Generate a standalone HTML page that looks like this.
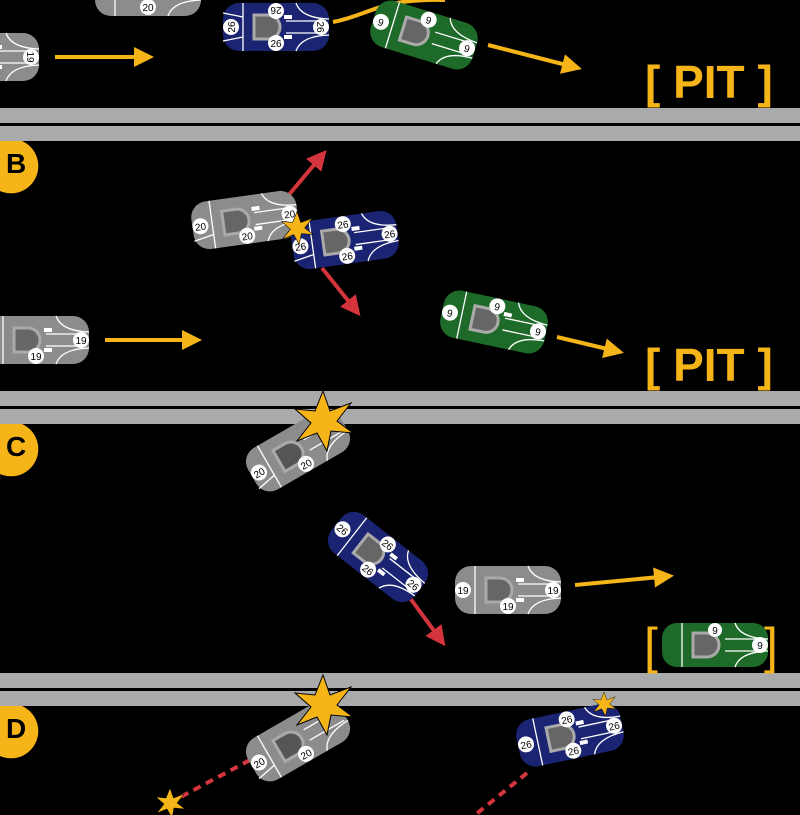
<!DOCTYPE html>
<html><head><meta charset="utf-8"><style>
html,body{margin:0;padding:0;background:#000;}
svg{display:block}
text{font-family:"Liberation Sans",sans-serif}
</style></head><body>
<svg width="800" height="815" viewBox="0 0 800 815" xmlns="http://www.w3.org/2000/svg">
<defs>
<marker id="ay" viewBox="0 0 10 10" refX="8" refY="5" markerWidth="5.5" markerHeight="5" orient="auto"><path d="M0,0 L10,5 L0,10 z" fill="#f5b417"/></marker>
<marker id="ar" viewBox="0 0 10 10" refX="8" refY="5" markerWidth="5.5" markerHeight="5" orient="auto"><path d="M0,0 L10,5 L0,10 z" fill="#d4343b"/></marker>
</defs>
<rect width="800" height="815" fill="#000"/>
<g fill="#a8aaac"><rect x="0" y="108" width="800" height="33"/><rect x="0" y="391" width="800" height="33"/><rect x="0" y="673" width="800" height="33"/></g>
<g fill="#000"><rect x="0" y="123" width="800" height="3"/><rect x="0" y="406" width="800" height="3"/><rect x="0" y="688" width="800" height="3"/></g>
<g fill="#f5b417"><path d="M0,141 h22 a27,27 0 0 1 -22,50 z"/>
<path d="M0,424 h22 a27,27 0 0 1 -22,50 z"/><path d="M0,706 h22 a27,27 0 0 1 -22,50 z"/></g>
<g font-size="28" font-weight="bold" fill="#000"><text x="6" y="173">B</text><text x="6" y="456">C</text><text x="6" y="738">D</text></g>

<g fill="#f5b417" font-weight="bold" font-size="46"><text x="645" y="98">[ PIT ]</text><text x="645" y="381">[ PIT ]</text>
<text x="644" y="663" font-weight="normal" font-size="50">[</text><text x="764" y="663" font-weight="normal" font-size="50">]</text></g>

<g stroke="#f5b417" stroke-width="4" fill="none">
<line x1="55" y1="57" x2="150" y2="57" marker-end="url(#ay)"/>
<line x1="488" y1="45" x2="578" y2="68" marker-end="url(#ay)"/>
<path d="M333,22 C370,15 380,-2 445,0"/>
<line x1="105" y1="340" x2="198" y2="340" marker-end="url(#ay)"/>
<line x1="557" y1="337" x2="620" y2="352" marker-end="url(#ay)"/>
<line x1="575" y1="585" x2="670" y2="576" marker-end="url(#ay)"/>
</g>
<g stroke="#d4343b" stroke-width="4" fill="none">
<line x1="287" y1="197" x2="324" y2="153" marker-end="url(#ar)"/>
<line x1="322" y1="268" x2="358" y2="313" marker-end="url(#ar)"/>
<line x1="410" y1="598" x2="443" y2="643" marker-end="url(#ar)"/>
<line x1="250" y1="760" x2="175" y2="800" stroke-dasharray="8,6"/>
<line x1="527" y1="773" x2="475" y2="815" stroke-dasharray="8,6"/>
</g>

<g font-size="10" text-anchor="middle">
<g transform="translate(148,-8)"><rect x="-53" y="-24" width="106" height="48" rx="16" fill="#8c8c8c"/><path d="M-33,-24V24M10,-6h40M10,6h40M20,24q5,-15 33,-16" stroke="#fff" stroke-width="1.3" fill="none"/><circle cx="0" cy="15" r="8" fill="#fff"/><text x="0" y="19" fill="#000">20</text></g>
<g transform="translate(-14,57)"><rect x="-53" y="-24" width="106" height="48" rx="16" fill="#8c8c8c"/><path d="M-33,-24V24M10,-6h40M10,6h40M20,-24q5,15 33,16M20,24q5,-15 33,-16" stroke="#fff" stroke-width="1.3" fill="none"/><rect x="8" y="-12" width="8" height="4" fill="#fff"/><rect x="8" y="8" width="8" height="4" fill="#fff"/><circle cx="45" cy="0" r="8" fill="#fff"/><text x="45" y="4" fill="#000" transform="rotate(90 45 0)">19</text></g>
<g transform="translate(276,27)"><rect x="-53" y="-24" width="106" height="48" rx="16" fill="#1b2472"/><path d="M-33,-24V24M10,-6h40M10,6h40M20,-24q5,15 33,16M20,24q5,-15 33,-16M-53,14L-33,10M-53,-14L-33,-10" stroke="#fff" stroke-width="1.3" fill="none"/><path d="M-22,-12h14a12,12 0 0 1 0,24h-14z" fill="#666" stroke="#aaa" stroke-width="3"/><rect x="8" y="-12" width="8" height="4" fill="#fff"/><rect x="8" y="8" width="8" height="4" fill="#fff"/><circle cx="-45" cy="0" r="8" fill="#fff"/><circle cx="0" cy="-16" r="8" fill="#fff"/><circle cx="0" cy="16" r="8" fill="#fff"/><circle cx="45" cy="0" r="8" fill="#fff"/><text x="0" y="20" fill="#000">26</text><text x="0" y="-12" fill="#000" transform="rotate(180 0 -16)">26</text><text x="-45" y="4" fill="#000" transform="rotate(-90 -45 0)">26</text><text x="45" y="4" fill="#000" transform="rotate(90 45 0)">26</text></g>
<g transform="translate(424,35) rotate(17)"><rect x="-53" y="-24" width="106" height="48" rx="16" fill="#1e6b29"/><path d="M-33,-24V24M10,-6h40M10,6h40M20,-24q5,15 33,16M20,24q5,-15 33,-16" stroke="#fff" stroke-width="1.3" fill="none"/><path d="M-22,-12h14a12,12 0 0 1 0,24h-14z" fill="#666" stroke="#aaa" stroke-width="3"/><circle cx="-45" cy="0" r="8" fill="#fff"/><circle cx="0" cy="-16" r="8" fill="#fff"/><circle cx="45" cy="0" r="8" fill="#fff"/><text x="0" y="-12" fill="#000">9</text><text x="-45" y="4" fill="#000">9</text><text x="45" y="4" fill="#000">9</text></g>

<g transform="translate(245,220) rotate(-8)"><rect x="-53" y="-24" width="106" height="48" rx="16" fill="#8c8c8c"/><path d="M-33,-24V24M10,-6h40M10,6h40M20,-24q5,15 33,16M20,24q5,-15 33,-16M-53,14L-33,10" stroke="#fff" stroke-width="1.3" fill="none"/><path d="M-22,-12h14a12,12 0 0 1 0,24h-14z" fill="#666" stroke="#aaa" stroke-width="3"/><rect x="8" y="-12" width="8" height="4" fill="#fff"/><rect x="8" y="8" width="8" height="4" fill="#fff"/><circle cx="-45" cy="0" r="8" fill="#fff"/><circle cx="0" cy="16" r="8" fill="#fff"/><circle cx="45" cy="0" r="8" fill="#fff"/><text x="0" y="20" fill="#000">20</text><text x="-45" y="4" fill="#000">20</text><text x="45" y="4" fill="#000">20</text></g>
<g transform="translate(345,240) rotate(-8)"><rect x="-53" y="-24" width="106" height="48" rx="16" fill="#1b2472"/><path d="M-33,-24V24M10,-6h40M10,6h40M20,-24q5,15 33,16M20,24q5,-15 33,-16M-53,14L-33,10" stroke="#fff" stroke-width="1.3" fill="none"/><path d="M-22,-12h14a12,12 0 0 1 0,24h-14z" fill="#666" stroke="#aaa" stroke-width="3"/><rect x="8" y="-12" width="8" height="4" fill="#fff"/><rect x="8" y="8" width="8" height="4" fill="#fff"/><circle cx="-45" cy="0" r="8" fill="#fff"/><circle cx="0" cy="-16" r="8" fill="#fff"/><circle cx="0" cy="16" r="8" fill="#fff"/><circle cx="45" cy="0" r="8" fill="#fff"/><text x="0" y="20" fill="#000">26</text><text x="0" y="-12" fill="#000">26</text><text x="-45" y="4" fill="#000">26</text><text x="45" y="4" fill="#000">26</text></g>
<g transform="translate(36,340)"><rect x="-53" y="-24" width="106" height="48" rx="16" fill="#8c8c8c"/><path d="M-33,-24V24M10,-6h40M10,6h40M20,-24q5,15 33,16M20,24q5,-15 33,-16" stroke="#fff" stroke-width="1.3" fill="none"/><path d="M-22,-12h14a12,12 0 0 1 0,24h-14z" fill="#666" stroke="#aaa" stroke-width="3"/><rect x="8" y="-12" width="8" height="4" fill="#fff"/><rect x="8" y="8" width="8" height="4" fill="#fff"/><circle cx="0" cy="16" r="8" fill="#fff"/><circle cx="45" cy="0" r="8" fill="#fff"/><text x="0" y="20" fill="#000">19</text><text x="45" y="4" fill="#000">19</text></g>
<g transform="translate(494,322) rotate(12)"><rect x="-53" y="-24" width="106" height="48" rx="16" fill="#1e6b29"/><path d="M-33,-24V24M10,-6h40M10,6h40M20,-24q5,15 33,16M20,24q5,-15 33,-16" stroke="#fff" stroke-width="1.3" fill="none"/><path d="M-22,-12h14a12,12 0 0 1 0,24h-14z" fill="#666" stroke="#aaa" stroke-width="3"/><rect x="8" y="-12" width="8" height="4" fill="#fff"/><circle cx="-45" cy="0" r="8" fill="#fff"/><circle cx="0" cy="-16" r="8" fill="#fff"/><circle cx="45" cy="0" r="8" fill="#fff"/><text x="0" y="-12" fill="#000">9</text><text x="-45" y="4" fill="#000">9</text><text x="45" y="4" fill="#000">9</text></g>

<g transform="translate(298,450) rotate(-30)"><rect x="-53" y="-24" width="106" height="48" rx="16" fill="#8c8c8c"/><path d="M-33,-24V24M10,-6h40M10,6h40M20,24q5,-15 33,-16M-53,14L-33,10" stroke="#fff" stroke-width="1.3" fill="none"/><path d="M-22,-12h14a12,12 0 0 1 0,24h-14z" fill="#555" stroke="#aaa" stroke-width="3"/><circle cx="-45" cy="0" r="8" fill="#fff"/><circle cx="0" cy="16" r="8" fill="#fff"/><text x="0" y="20" fill="#000">20</text><text x="-45" y="4" fill="#000">20</text></g>
<g transform="translate(378,557) rotate(38)"><rect x="-53" y="-24" width="106" height="48" rx="16" fill="#1b2472"/><path d="M-33,-24V24M10,-6h40M10,6h40M20,-24q5,15 33,16M20,24q5,-15 33,-16" stroke="#fff" stroke-width="1.3" fill="none"/><path d="M-22,-12h14a12,12 0 0 1 0,24h-14z" fill="#666" stroke="#aaa" stroke-width="3"/><rect x="8" y="-12" width="8" height="4" fill="#fff"/><rect x="8" y="8" width="8" height="4" fill="#fff"/><circle cx="-45" cy="0" r="8" fill="#fff"/><circle cx="0" cy="-16" r="8" fill="#fff"/><circle cx="0" cy="16" r="8" fill="#fff"/><circle cx="45" cy="0" r="8" fill="#fff"/><text x="0" y="20" fill="#000">26</text><text x="0" y="-12" fill="#000">26</text><text x="-45" y="4" fill="#000">26</text><text x="45" y="4" fill="#000">26</text></g>
<g transform="translate(508,590)"><rect x="-53" y="-24" width="106" height="48" rx="16" fill="#8c8c8c"/><path d="M-33,-24V24M10,-6h40M10,6h40M20,-24q5,15 33,16M20,24q5,-15 33,-16" stroke="#fff" stroke-width="1.3" fill="none"/><path d="M-22,-12h14a12,12 0 0 1 0,24h-14z" fill="#666" stroke="#aaa" stroke-width="3"/><rect x="8" y="-12" width="8" height="4" fill="#fff"/><rect x="8" y="8" width="8" height="4" fill="#fff"/><circle cx="-45" cy="0" r="8" fill="#fff"/><circle cx="0" cy="16" r="8" fill="#fff"/><circle cx="45" cy="0" r="8" fill="#fff"/><text x="0" y="20" fill="#000">19</text><text x="-45" y="4" fill="#000">19</text><text x="45" y="4" fill="#000">19</text></g>
<g transform="translate(715,645)"><rect x="-53" y="-22" width="106" height="44" rx="15" fill="#1e6b29"/><path d="M-33,-22V22M10,-6h40M10,6h40M20,-22q5,15 33,16M20,22q5,-15 33,-16" stroke="#fff" stroke-width="1.3" fill="none"/><path d="M-22,-12h14a12,12 0 0 1 0,24h-14z" fill="#666" stroke="#aaa" stroke-width="3"/><circle cx="0" cy="-15" r="7" fill="#fff"/><circle cx="45" cy="0" r="8" fill="#fff"/><text x="0" y="-11" fill="#000">9</text><text x="45" y="4" fill="#000">9</text></g>

<g transform="translate(298,740) rotate(-30)"><rect x="-53" y="-24" width="106" height="48" rx="16" fill="#8c8c8c"/><path d="M-33,-24V24M10,-6h40M10,6h40M20,24q5,-15 33,-16M-53,14L-33,10" stroke="#fff" stroke-width="1.3" fill="none"/><path d="M-22,-12h14a12,12 0 0 1 0,24h-14z" fill="#555" stroke="#aaa" stroke-width="3"/><circle cx="-45" cy="0" r="8" fill="#fff"/><circle cx="0" cy="16" r="8" fill="#fff"/><text x="0" y="20" fill="#000">20</text><text x="-45" y="4" fill="#000">20</text></g>
<g transform="translate(570,735) rotate(-12)"><rect x="-53" y="-24" width="106" height="48" rx="16" fill="#1b2472"/><path d="M-33,-24V24M10,-6h40M10,6h40M20,-24q5,15 33,16M20,24q5,-15 33,-16" stroke="#fff" stroke-width="1.3" fill="none"/><path d="M-22,-12h14a12,12 0 0 1 0,24h-14z" fill="#666" stroke="#aaa" stroke-width="3"/><rect x="8" y="-12" width="8" height="4" fill="#fff"/><rect x="8" y="8" width="8" height="4" fill="#fff"/><circle cx="-45" cy="0" r="8" fill="#fff"/><circle cx="0" cy="-16" r="8" fill="#fff"/><circle cx="0" cy="16" r="8" fill="#fff"/><circle cx="45" cy="0" r="8" fill="#fff"/><text x="0" y="20" fill="#000">26</text><text x="0" y="-12" fill="#000">26</text><text x="-45" y="4" fill="#000">26</text><text x="45" y="4" fill="#000">26</text></g>
</g>

<g fill="#f5b417" stroke="#000" stroke-width="1">
<path transform="translate(297,228) scale(0.55)" d="M0,-30 L7,-10 L28,-18 L14,0 L30,12 L8,10 L4,30 L-6,12 L-26,20 L-12,2 L-28,-12 L-8,-10 Z"/>
<path transform="translate(323,421)" d="M0,-30 L7,-10 L28,-18 L14,0 L30,12 L8,10 L4,30 L-6,12 L-26,20 L-12,2 L-28,-12 L-8,-10 Z"/>
<path transform="translate(323,705)" d="M0,-30 L7,-10 L28,-18 L14,0 L30,12 L8,10 L4,30 L-6,12 L-26,20 L-12,2 L-28,-12 L-8,-10 Z"/>
<path transform="translate(604,704) scale(0.4)" d="M0,-30 L7,-10 L28,-18 L14,0 L30,12 L8,10 L4,30 L-6,12 L-26,20 L-12,2 L-28,-12 L-8,-10 Z"/>
<path transform="translate(170,803) scale(0.5)" d="M0,-30 L7,-10 L28,-18 L14,0 L30,12 L8,10 L4,30 L-6,12 L-26,20 L-12,2 L-28,-12 L-8,-10 Z"/>
</g>
</svg>
</body></html>
